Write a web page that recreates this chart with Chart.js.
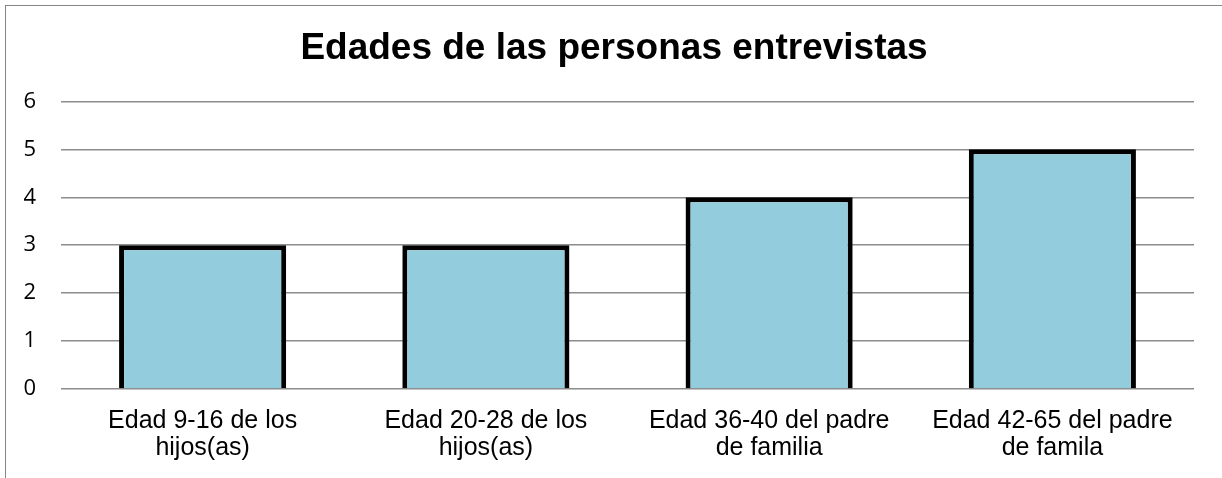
<!DOCTYPE html>
<html>
<head>
<meta charset="utf-8">
<script src="https://cdn.jsdelivr.net/npm/chart.js@4"></script>
<style>
  html, body { margin: 0; padding: 0; background: #fff; overflow: hidden; }
  #wrap { position: relative; width: 1222px; height: 478px; }
  #frame { position: absolute; left: 5px; top: 5px; width: 1400px; height: 600px;
           border-left: 1px solid #858585; border-top: 1px solid #858585; pointer-events: none; }
</style>
</head>
<body>
<div id="wrap">
  <canvas id="myBarChart" width="1222" height="478"></canvas>
  <div id="frame"></div>
</div>
<script>
const titleText = 'Edades de las personas entrevistas';
const categories = [
    ['Edad 9-16 de los', 'hijos(as)'],
    ['Edad 20-28 de los', 'hijos(as)'],
    ['Edad 36-40 del padre', 'de familia'],
    ['Edad 42-65 del padre', 'de famila']
];
const values = [3, 3, 4, 5];
const yTicks = [0, 1, 2, 3, 4, 5, 6];

// the original title sits a bit right of the canvas centre
const shiftTitle = {
    id: 'shiftTitle',
    afterLayout(chart) {
        if (chart.titleBlock) {
            chart.titleBlock.left = 34;
        }
    }
};

const ctx = document.getElementById('myBarChart').getContext('2d');
const myChart = new Chart(ctx, {
    type: 'bar',
    data: {
        labels: categories,
        datasets: [{
            label: 'Edades',
            data: values,
            backgroundColor: '#93ccdc',
            borderColor: '#000000',
            borderWidth: 5,
            borderSkipped: 'start',
            categoryPercentage: 1,
            barPercentage: 0.59
        }]
    },
    options: {
        responsive: false,
        animation: false,
        layout: { padding: { left: 0, right: 28, top: 0, bottom: 0 } },
        plugins: {
            legend: { display: false },
            tooltip: { enabled: false },
            title: {
                display: true,
                text: titleText,
                color: '#000',
                font: { family: '"Liberation Sans", Arial, sans-serif', size: 37, weight: 'bold', lineHeight: 1.2 },
                padding: { top: 27, bottom: 30 }
            }
        },
        scales: {
            x: {
                grid: { display: false, drawTicks: false },
                border: { display: false },
                ticks: {
                    color: '#000',
                    padding: 18,
                    maxRotation: 0,
                    autoSkip: false,
                    font: { family: '"Liberation Sans", Arial, sans-serif', size: 25, lineHeight: 1.1 }
                },
                afterFit: scale => { scale.height = 89; }
            },
            y: {
                min: 0,
                max: 6,
                afterBuildTicks: scale => { scale.ticks = yTicks.map(v => ({ value: v })); },
                grid: { color: '#8c8c8c', lineWidth: 1.5, drawTicks: false },
                border: { display: false },
                ticks: {
                    color: '#000',
                    padding: 25,
                    font: { family: '"Open Sans", sans-serif', size: 22 }
                },
                afterFit: scale => { scale.width = 61; }
            }
        }
    },
    plugins: [shiftTitle]
});
</script>
</body>
</html>
